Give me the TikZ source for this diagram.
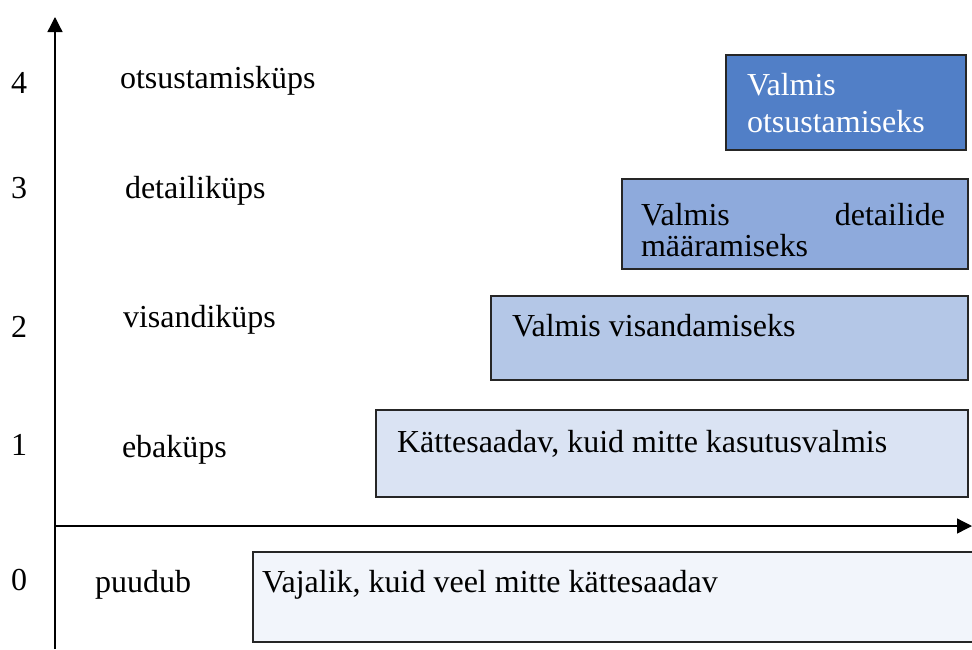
\documentclass[tikz,border=0pt]{standalone}
\usepackage{fontspec}
\setmainfont{Liberation Serif}
\usetikzlibrary{arrows.meta}

\definecolor{lvlfour}{HTML}{517FC7}
\definecolor{lvlthree}{HTML}{8EAADC}
\definecolor{lvltwo}{HTML}{B4C7E7}
\definecolor{lvlone}{HTML}{DAE3F3}
\definecolor{lvlzero}{HTML}{F2F5FB}
\definecolor{edge}{HTML}{262626}

\begin{document}
\begin{tikzpicture}[x=1pt,y=-1pt,
    every node/.style={font=\fontsize{32}{37}\selectfont, inner sep=0pt, outer sep=0pt},
    levelbox/.style={draw=edge, line width=1.3pt, rectangle, anchor=north west},
    axisline/.style={line width=1.3pt, -{Triangle[width=15pt,length=15pt]}},
    txt/.style={anchor=base west, align=left}]
  \useasboundingbox (0,0) rectangle (972,649);

  % axes
  \coordinate (ybot) at (55,649);
  \coordinate (ytop) at (55,17);
  \coordinate (xleft) at (55,526);
  \coordinate (xright) at (972,526);
  \draw[axisline] (ybot) -- (ytop);
  \draw[axisline] (xleft) -- (xright);

  % level numbers
  \node[txt] (n4) at (11,93) {4};
  \node[txt] (n3) at (11,198) {3};
  \node[txt] (n2) at (11,337) {2};
  \node[txt] (n1) at (11,455) {1};
  \node[txt] (n0) at (11,590) {0};

  % level names
  \node[txt] (l4) at (120,88) {otsustamisküps};
  \node[txt] (l3) at (125,198) {detailiküps};
  \node[txt] (l2) at (123,327) {visandiküps};
  \node[txt] (l1) at (122,457) {ebaküps};
  \node[txt] (l0) at (95,592) {puudub};

  % readiness boxes
  \node[levelbox, fill=lvlfour, minimum width=240pt, minimum height=95pt] (b4) at (726,55) {};
  \node[levelbox, fill=lvlthree, minimum width=346pt, minimum height=90pt] (b3) at (622,179) {};
  \node[levelbox, fill=lvltwo, minimum width=477pt, minimum height=84pt] (b2) at (491,296) {};
  \node[levelbox, fill=lvlone, minimum width=592pt, minimum height=87pt] (b1) at (376,410) {};
  \node[levelbox, fill=lvlzero, minimum width=740pt, minimum height=90pt] (b0) at (253,552) {};

  % box texts (base anchor sits on the last line)
  \node[txt, text=white] (t4) at (747,132) {Valmis\\[0pt]otsustamiseks};
  \node[txt] (t3) at (641,256) {\makebox[304pt][l]{Valmis\hfill detailide}\\[-6pt]määramiseks};
  \node[txt] (t2) at (512,336) {Valmis visandamiseks};
  \node[txt] (t1) at (397,452) {Kättesaadav, kuid mitte kasutusvalmis};
  \node[txt] (t0) at (262,592) {Vajalik, kuid veel mitte kättesaadav};
\end{tikzpicture}
\end{document}
